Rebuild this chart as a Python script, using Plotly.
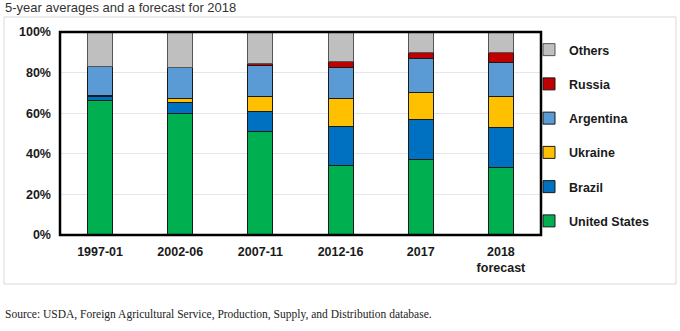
import plotly.graph_objects as go

categories = ["1997-01", "2002-06", "2007-11", "2012-16", "2017", "2018<br>forecast"]
united_states = [66.4, 59.8, 50.8, 34.1, 37.2, 33.1]
brazil = [1.8, 5.4, 10.2, 19.2, 19.5, 19.9]
ukraine = [0.4, 1.8, 7.2, 13.9, 13.6, 15.2]
argentina = [14.5, 15.6, 15.4, 15.3, 16.6, 16.7]
russia = [0.0, 0.0, 1.0, 3.1, 2.9, 4.9]
others = [16.9, 17.4, 15.4, 14.4, 10.2, 10.2]

series = [
    ("United States", united_states, "#00B050", "#1a1a1a"),
    ("Brazil", brazil, "#0070C0", "#1a1a1a"),
    ("Ukraine", ukraine, "#FFC000", "#1a1a1a"),
    ("Argentina", argentina, "#5B9BD5", "#1a1a1a"),
    ("Russia", russia, "#C00000", "#1a1a1a"),
    ("Others", others, "#BFBFBF", "#555555"),
]

fig = go.Figure()
n = len(series)
for i, (name, vals, color, line) in enumerate(series):
    fig.add_trace(go.Bar(
        x=categories, y=vals, name=name, legendgroup=name,
        legendrank=n - i,
        marker=dict(color=color, line=dict(color=line, width=1)),
        width=0.31,
    ))

W, H = 680, 331
L, R, T, B = 60, 139, 32, 96
pw, ph = W - L - R, H - T - B

def px(x):
    return (x - L) / pw

def py(y):
    return (H - B - y) / ph

fig.update_layout(
    width=W, height=H,
    margin=dict(l=L, r=R, t=T, b=B),
    barmode="stack",
    plot_bgcolor="white", paper_bgcolor="white",
    font=dict(family="Liberation Sans, Arial", size=12, color="#1a1a1a"),
    showlegend=True,
    legend=dict(
        traceorder="grouped", tracegroupgap=15,
        x=px(529), y=py(35), xanchor="left", yanchor="top",
        font=dict(family="Liberation Sans, Arial", size=12.5, color="#1a1a1a", weight="bold"),
        itemwidth=30, bgcolor="rgba(0,0,0,0)",
    ),
    xaxis=dict(
        type="category",
        showgrid=False, ticks="", showline=False,
        ticklabelstandoff=7,
        tickfont=dict(size=12.5, weight="bold", color="#1a1a1a"),
    ),
    yaxis=dict(
        range=[0, 100], dtick=20, ticksuffix="%",
        showgrid=True, gridcolor="#e6e6e6", gridwidth=1,
        zeroline=False, showline=False, ticks="",
        ticklabelstandoff=8,
        tickfont=dict(size=12.5, weight="bold", color="#1a1a1a"),
    ),
    shapes=[
        dict(type="rect", xref="paper", yref="paper", x0=0, x1=1, y0=0, y1=1,
             line=dict(color="black", width=2.5), layer="above"),
        dict(type="rect", xref="paper", yref="paper",
             x0=px(4), x1=px(676), y0=py(284), y1=py(17),
             line=dict(color="#d9d9d9", width=1), layer="below"),
    ],
    annotations=[
        dict(text="5-year averages and a forecast for 2018", xref="paper", yref="paper",
             x=px(3), y=py(8), xanchor="left", yanchor="middle", showarrow=False,
             font=dict(family="Liberation Sans, Arial", size=13, color="#333333")),
        dict(text="Source: USDA, Foreign Agricultural Service, Production, Supply, and Distribution database.",
             xref="paper", yref="paper",
             x=px(3), y=py(314), xanchor="left", yanchor="middle", showarrow=False,
             font=dict(family="Liberation Serif, Times New Roman", size=11.5, color="#222222")),
    ],
)

fig.write_html("out.html")
